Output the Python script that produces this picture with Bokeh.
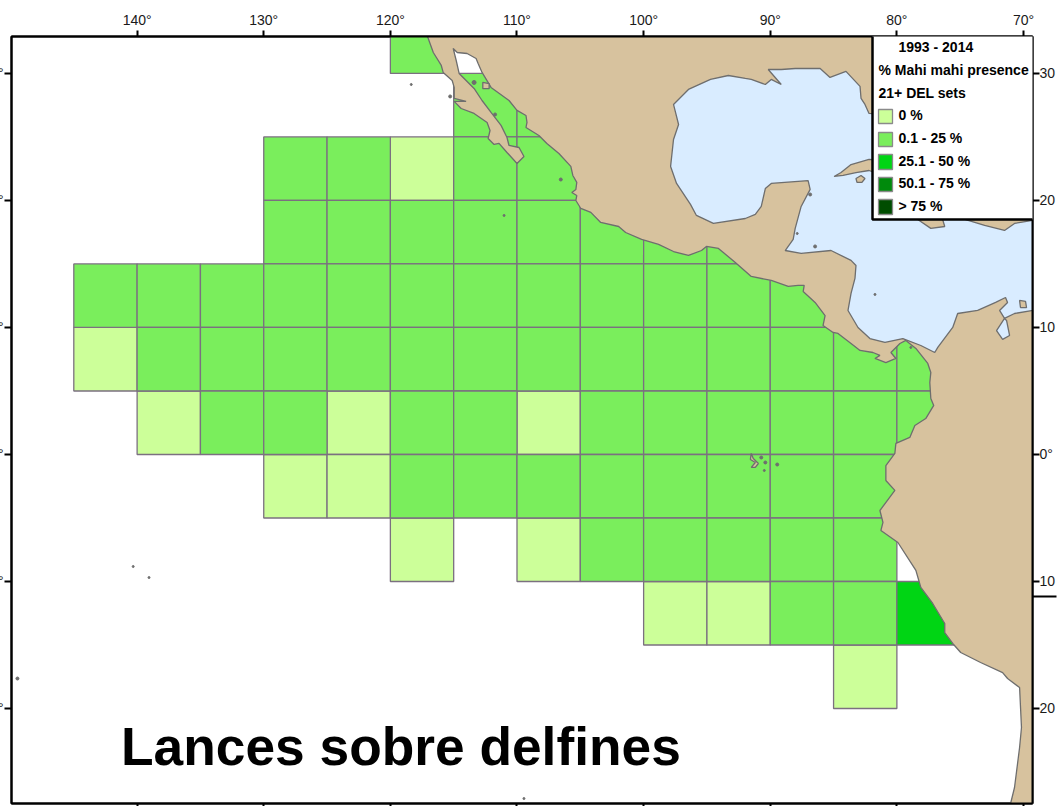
from bokeh.plotting import figure
from bokeh.models import LinearAxis, FixedTicker, Range1d, Label, BoxAnnotation
from bokeh.embed import file_html
from bokeh.resources import INLINE

# ---- map window (degrees) -------------------------------------------------
lon_min, lon_max = -149.92, -69.29
lat_min, lat_max = -27.48, 32.91

# ---- ticks ----------------------------------------------------------------
lon_ticks = [-140, -130, -120, -110, -100, -90, -80, -70]
lon_labels = ["140°", "130°", "120°", "110°", "100°", "90°", "80°", "70°"]
lat_ticks = [30, 20, 10, 0, -10, -20]
lat_labels_left = ["30°", "20°", "10°", "0°", "10°", "20°"]
lat_labels_right = ["30", "20", "10", "0°", "10", "20"]
stray_tick = [-11.18]

# ---- 5 degree cells: western edge per row (southern edge) ------------------
low_rows = {
    30: [-120],
    25: [-115, -110],
    20: [-130, -125, -115, -110],
    15: [-130, -125, -120, -115, -110, -105, -100, -95],
    10: [-145, -140, -135, -130, -125, -120, -115, -110, -105, -100, -95, -90],
    5: [-140, -135, -130, -125, -120, -115, -110, -105, -100, -95, -90, -85, -80],
    0: [-135, -130, -120, -115, -105, -100, -95, -90, -85, -80],
    -5: [-120, -115, -110, -105, -100, -95, -90, -85],
    -10: [-105, -100, -95, -90, -85],
    -15: [-90, -85],
}
zero_west = [-120, -145, -140, -125, -110, -130, -125, -120, -110, -100, -95, -85]
zero_south = [20, 5, 0, 0, 0, -5, -5, -10, -10, -15, -15, -20]
mid_west = [-80]
mid_south = [-15]

# ---- coastlines (lon / lat) ------------------------------------------------
land_lon = [-117.24, -116.61, -115.98, -115.83, -115.12, -114.96, -114.96, -114.02, -114.96, -114.41,
            -113.39, -112.36, -112.13, -112.28, -111.81, -111.42, -110.79, -110.0, -109.45, -109.84,
            -110.63, -110.79, -111.26, -112.05, -112.76, -113.39, -114.57, -114.8, -115.04, -114.72,
            -113.94, -113.23, -113.07, -112.76, -112.05, -110.63, -110.0, -109.29, -109.21, -109.29,
            -108.27, -107.64, -106.69, -105.75, -105.59, -105.28, -105.35, -105.67, -105.28, -105.35,
            -104.96, -104.17, -103.39, -101.97, -101.42, -100.16, -98.82, -97.64, -96.46, -95.43,
            -95.04, -94.09, -92.76, -91.5, -89.92, -88.58, -87.8, -87.32, -87.4, -86.46,
            -85.67, -85.83, -85.04, -84.65, -83.62, -82.91, -81.89, -81.34, -81.73, -80.87,
            -80.08, -80.47, -79.76, -79.29, -78.5, -77.56, -77.32, -77.4, -77.32, -77.09,
            -77.72, -78.58, -78.98, -80.08, -80.16, -80.87, -80.87, -80.16, -81.34, -81.10,
            -81.26, -79.92, -78.5, -78.11, -77.17, -76.22, -76.22, -75.59, -74.96, -73.39,
            -71.65, -71.26, -70.31, -70.16, -70.31, -70.47, -70.71, -71.02, -71.02, -68.0, -68.0]
land_lat = [33.39, 31.65, 30.63, 30.08, 29.45, 28.90, 28.03, 27.80, 27.80, 27.24,
            26.85, 26.14, 25.51, 24.88, 24.41, 24.49, 23.78, 22.91, 23.46, 24.17,
            24.33, 24.96, 25.91, 26.93, 27.87, 28.82, 30.0, 31.02, 31.97, 31.65,
            31.57, 31.18, 30.79, 30.08, 28.90, 27.87, 27.09, 26.69, 26.14, 25.75,
            25.12, 24.49, 23.70, 22.68, 21.97, 21.42, 20.87, 20.63, 20.39, 20.0,
            19.37, 19.06, 18.27, 17.95, 17.48, 16.93, 16.54, 15.98, 15.67, 16.06,
            16.38, 16.22, 15.12, 14.02, 13.70, 13.23, 13.31, 13.31, 12.83, 11.97,
            10.94, 10.16, 9.61, 9.53, 8.74, 8.19, 8.03, 7.80, 7.56, 7.24,
            7.56, 8.03, 8.74, 8.98, 8.35, 7.17, 6.46, 5.67, 4.41, 3.86,
            2.83, 2.28, 1.34, 0.87, 0.08, -0.87, -2.05, -2.83, -4.41, -5.35,
            -5.98, -6.93, -9.13, -10.47, -11.73, -13.31, -14.02, -14.88, -15.59, -16.38,
            -17.17, -17.64, -18.35, -21.5, -23.07, -24.33, -26.22, -27.48, -29.0, -29.0, 33.39]

sea_lon = [-68.0, -70.71, -71.5, -71.89, -71.26, -71.42, -72.2, -73.62, -75.2, -75.59,
           -76.77, -77.01, -78.11, -79.53, -80.94, -82.13, -83.07, -83.86, -83.62, -83.31,
           -83.23, -83.62, -85.2, -87.56, -88.82, -88.19, -88.03, -87.56, -86.85, -87.01,
           -89.92, -90.39, -90.71, -91.18, -91.97, -94.49, -95.83, -96.3, -97.4, -97.87,
           -97.64, -97.24, -97.64, -96.46, -94.72, -93.31, -91.97, -91.5, -90.39, -89.92,
           -89.13, -90.16, -89.13, -88.03, -86.06, -85.28, -84.02, -82.91, -82.83, -82.52,
           -82.2, -68.0]
sea_lat = [11.57, 11.10, 10.71, 11.34, 11.97, 12.36, 11.97, 11.34, 11.10, 10.0,
           8.43, 8.03, 8.58, 9.13, 8.82, 9.13, 10.0, 11.34, 12.68, 13.86,
           14.88, 15.28, 16.06, 15.83, 16.06, 16.93, 17.80, 19.53, 20.87, 21.57,
           21.34, 20.94, 19.53, 18.90, 18.58, 18.19, 18.82, 19.69, 21.34, 22.68,
           24.80, 25.98, 27.56, 28.74, 29.53, 29.84, 29.61, 29.53, 29.13, 29.53,
           29.13, 30.31, 30.31, 30.39, 30.39, 29.69, 30.16, 28.98, 28.03, 27.56,
           26.85, 25.9]

lake_lon = [-71.5, -72.13, -71.65, -71.1, -71.34]
lake_lat = [10.71, 9.76, 9.06, 9.37, 10.55]

island_lons = [
    [-84.96, -84.25, -83.23, -82.2, -81.1, -81.1, -82.2, -83.62, -84.41],          # Cuba
    [-83.23, -82.83, -82.52, -82.76, -83.15],                                      # Isla de la Juventud
    [-78.35, -77.32, -76.22, -76.54, -78.35],                                      # Jamaica
    [-74.57, -73.07, -71.5, -70.71, -69.29, -69.29, -74.57],                       # Hispaniola
    [-91.5, -91.34, -90.94, -91.18, -91.5, -91.18, -91.57],                        # Isabela
    [-70.31, -69.84, -69.76, -70.24],                                              # Aruba
    [-112.7, -112.2, -112.2, -112.7],                                              # Tiburon
]
island_lats = [
    [21.89, 21.97, 22.2, 22.36, 21.97, 23.15, 23.23, 22.83, 22.2],
    [21.73, 21.97, 21.73, 21.42, 21.42],
    [18.5, 17.8, 17.95, 19.0, 19.0],
    [18.5, 18.03, 17.64, 18.19, 18.43, 19.0, 19.0],
    [0.08, -0.31, -0.71, -1.02, -1.02, -0.63, -0.39],
    [12.13, 12.05, 11.57, 11.57],
    [29.3, 29.2, 28.8, 28.8],
]
islet_lon = [-118.35, -115.28, -113.39, -111.73, -106.54, -111.02, -140.31, -139.06, -149.45,
             -109.45, -90.39, -90.71, -90.47, -89.45, -86.85, -87.87, -86.46, -81.73, -78.9]
islet_lat = [29.13, 28.19, 29.29, 26.77, 21.65, 18.82, -8.82, -9.69, -17.64,
             -27.09, -0.63, -0.24, -1.26, -0.79, 20.47, 17.4, 16.38, 12.6, 8.43]
islet_size = [2, 3, 4, 3, 3, 2, 2, 2, 3,
              2, 3, 3, 2, 3, 3, 2, 3, 2, 2]

# ---- legend and title ------------------------------------------------------
legend_head = ["1993 - 2014", "% Mahi mahi presence", "21+ DEL sets"]
legend_items = ["0 %", "0.1 - 25 %", "25.1 - 50 %", "50.1 - 75 %", "> 75 %"]
legend_cols = ["#ccff99", "#7aee5c", "#00d514", "#008a0c", "#004d00"]
chart_title = "Lances sobre delfines"

LAND, SEA, COAST, GRID = "#d7c29e", "#d9ecff", "#6e6e6e", "#7b7080"
FONT = "Liberation Sans"
INK = "#1a1a1a"

p = figure(width=1087, height=806, output_backend="svg", toolbar_location=None,
           x_range=Range1d(lon_min, lon_max), y_range=Range1d(lat_min, lat_max),
           min_border_left=40, min_border_right=23, min_border_top=36, min_border_bottom=3,
           background_fill_color="white", border_fill_color="white",
           outline_line_color="black", outline_line_width=2)
p.styles = {"position": "absolute", "left": "-29px", "top": "0px"}
p.xgrid.visible = False
p.ygrid.visible = False

# cells
low_west = [w for s, ws in low_rows.items() for w in ws]
low_south = [s for s, ws in low_rows.items() for w in ws]
for wests, souths, col in ((zero_west, zero_south, legend_cols[0]),
                           (low_west, low_south, legend_cols[1]),
                           (mid_west, mid_south, legend_cols[2])):
    p.quad(left=wests, right=[w + 5 for w in wests], bottom=souths, top=[s + 5 for s in souths],
           fill_color=col, line_color=GRID, line_width=1.3)

# land, sea, islands
p.patch(land_lon, land_lat, fill_color=LAND, line_color=COAST, line_width=1.3)
p.patch(sea_lon, sea_lat, fill_color=SEA, line_color=None)
p.line(sea_lon, sea_lat, line_color=COAST, line_width=1.3)
p.patch(lake_lon, lake_lat, fill_color=SEA, line_color=COAST, line_width=1.3)
p.patches(island_lons, island_lats, fill_color=LAND, line_color=COAST, line_width=1.3)
p.scatter(islet_lon, islet_lat, size=islet_size, fill_color=COAST, line_color=COAST, line_width=1)


def style_axis(ax, ticks, labels, tick_out, standoff):
    ax.ticker = FixedTicker(ticks=ticks)
    ax.major_label_overrides = dict(zip(ticks, labels))
    ax.axis_line_color = "black"
    ax.axis_line_width = 2
    ax.major_tick_line_color = "black"
    ax.major_tick_line_width = 2
    ax.major_tick_out = tick_out
    ax.major_tick_in = 0
    ax.minor_tick_line_color = None
    ax.major_label_standoff = standoff
    ax.major_label_text_font = FONT
    ax.major_label_text_font_size = "14px"
    ax.major_label_text_color = INK


xb = p.xaxis[0]
style_axis(xb, lon_ticks, [""] * len(lon_ticks), 3, 0)
xb.major_label_text_font_size = "0px"
yl = p.yaxis[0]
style_axis(yl, lat_ticks, lat_labels_left, 7, 1)

xt = LinearAxis()
style_axis(xt, lon_ticks, lon_labels, 6, 3)
p.add_layout(xt, "above")

# the stray rule right of the frame is a long minor tick; the negative standoff keeps the labels close
yr = LinearAxis()
style_axis(yr, lat_ticks, lat_labels_right, 7, -17)
yr.ticker = FixedTicker(ticks=lat_ticks, minor_ticks=stray_tick)
yr.minor_tick_line_color = "black"
yr.minor_tick_line_width = 2
yr.minor_tick_out = 24
yr.minor_tick_in = 0
p.add_layout(yr, "right")


# legend, placed relative to the frame whose corner is at page pixel (11, 803)
def sx(px):
    return px - 11


def sy(py):
    return 803 - py


def box(x0, x1, y0, y1, fill, line, width):
    p.add_layout(BoxAnnotation(left=sx(x0), right=sx(x1), top=sy(y0), bottom=sy(y1),
                               left_units="screen", right_units="screen",
                               top_units="screen", bottom_units="screen",
                               fill_color=fill, fill_alpha=1, line_color=line, line_alpha=1,
                               line_width=width, level="overlay"))


def text(x, y, s, size):
    # the page's text anchor sits about 0.37 em above the wanted baseline
    p.add_layout(Label(x=sx(x), y=sy(y) + 0.37 * size, x_units="screen", y_units="screen", text=s,
                       text_font=FONT, text_font_style="bold", text_font_size=f"{size}px",
                       text_color="black", text_baseline="alphabetic", level="overlay"))


box(872, 1034.5, 33.5, 219, "white", "black", 2.5)
for s, x, y in zip(legend_head, (898, 878, 878), (52, 75, 98)):
    text(x, y, s, 14)
for s, col, y0, y1, base in zip(legend_items, legend_cols,
                                (109, 132, 154, 177, 199), (123, 146, 169, 191, 214),
                                (120, 143, 166, 188, 211)):
    box(878, 892, y0, y1, col, "#8a8a8a", 1.3)
    text(898, base, s, 14)
text(120.5, 766, chart_title, 53.3)

open("out.html", "w").write(file_html(p, INLINE))
